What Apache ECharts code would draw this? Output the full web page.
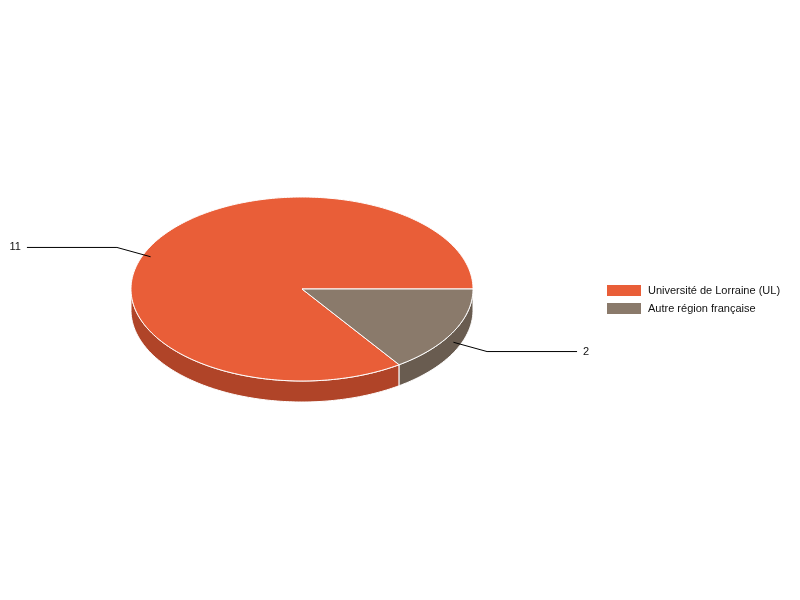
<!DOCTYPE html>
<html><head><meta charset="utf-8">
<script src="https://cdn.jsdelivr.net/npm/echarts@6/dist/echarts.min.js"></script>
<style>html,body{margin:0;padding:0;background:#fff}#c{width:800px;height:600px}</style>
</head><body><div id="c"></div>
<script>
const categories = ['Université de Lorraine (UL)', 'Autre région française'];
const values = [11, 2];
const topColors = ['#E95E38', '#8A7A6B'];
const sideColors = ['#B04428', '#695C50'];

const CX = 302, CY = 289, RX = 171, RY = 92, DEPTH = 21;
const FONT = 'Liberation Sans, Arial, sans-serif';
const total = values.reduce((a, b) => a + b, 0);
const starts = []; let acc = 0;
values.forEach(v => { starts.push(acc); acc += v; });
const sliceData = values.map((v, i) => ({ name: categories[i], value: [starts[i], v, total] }));

function pt(phi, dy) { return [CX + RX * Math.cos(phi), CY - RY * Math.sin(phi) + (dy || 0)]; }
function arcPts(a, b, dy) {
  const n = Math.max(2, Math.ceil((b - a) / (Math.PI / 180)));
  const r = [];
  for (let i = 0; i <= n; i++) r.push(pt(a + (b - a) * i / n, dy));
  return r;
}
function angles(api) {
  const s = api.value(0), v = api.value(1), t = api.value(2);
  return [s / t * Math.PI * 2, (s + v) / t * Math.PI * 2];
}

function renderSide(params, api) {
  const [a, b] = angles(api);
  const s = Math.max(a, Math.PI), e = Math.min(b, Math.PI * 2);
  if (s >= e) return { type: 'group', children: [] };
  const pts = arcPts(s, e, 0).concat(arcPts(s, e, DEPTH).reverse());
  return {
    type: 'polygon', shape: { points: pts },
    style: { fill: sideColors[params.dataIndex], stroke: '#fff', lineWidth: 1 }
  };
}
function renderTop(params, api) {
  const [a, b] = angles(api);
  const pts = [[CX, CY]].concat(arcPts(a, b, 0));
  const mid = (a + b) / 2;
  const anchor = pt(mid, DEPTH / 2);
  const sign = Math.cos(mid) >= 0 ? 1 : -1;
  const elbow = [anchor[0] + Math.cos(mid) * 38, anchor[1] - Math.sin(mid) * 20];
  const end = [elbow[0] + sign * 90, elbow[1]];
  return {
    type: 'group', children: [
      { type: 'polygon', shape: { points: pts },
        style: { fill: topColors[params.dataIndex], stroke: '#fff', lineWidth: 1 } },
      { type: 'polyline', shape: { points: [anchor, elbow, end] },
        style: { stroke: '#000', lineWidth: 1, fill: null } },
      { type: 'text', x: end[0] + sign * 6, y: end[1],
        style: { text: String(api.value(1)), fill: '#111', font: '11px ' + FONT,
          align: sign > 0 ? 'left' : 'right', verticalAlign: 'middle' } }
    ]
  };
}

const chart = echarts.init(document.getElementById('c'), null, { renderer: 'canvas' });
chart.setOption({
  animation: false,
  backgroundColor: '#fff',
  legend: {
    orient: 'vertical', left: 607, top: 285, padding: 0,
    itemWidth: 34, itemHeight: 11, itemGap: 7, icon: 'rect',
    textStyle: { fontSize: 11, fontFamily: FONT, color: '#111', padding: [0, 0, 0, 2] },
    data: categories
  },
  series: [
    { type: 'pie', radius: [0, 0], center: [CX, CY], silent: true,
      label: { show: false }, labelLine: { show: false },
      data: values.map((v, i) => ({ name: categories[i], value: v, itemStyle: { color: topColors[i] } })) },
    { type: 'custom', coordinateSystem: 'none', renderItem: renderSide, data: sliceData, silent: true },
    { type: 'custom', coordinateSystem: 'none', renderItem: renderTop, data: sliceData, silent: true }
  ]
});
</script></body></html>
